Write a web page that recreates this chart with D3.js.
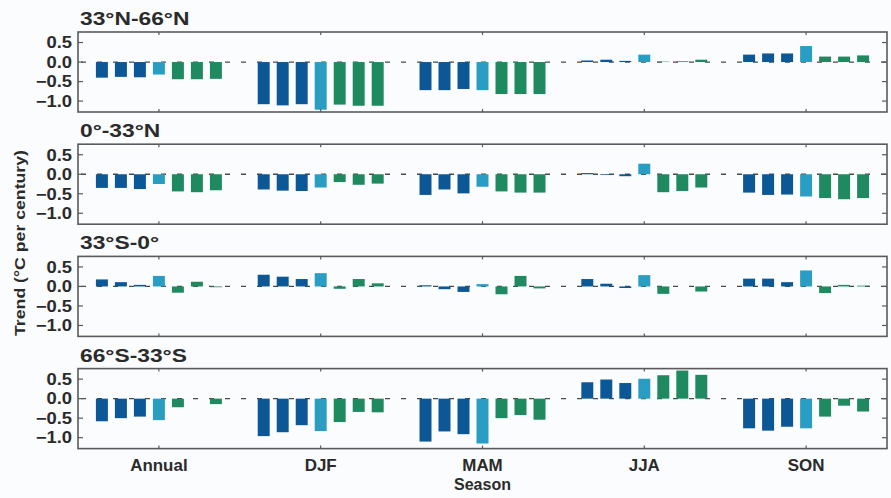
<!DOCTYPE html>
<html>
<head>
<meta charset="utf-8">
<script src="https://cdn.jsdelivr.net/npm/d3@7"></script>
<style>
  body { margin: 0; background: #fafcfd; }
  text { font-family: "Liberation Sans", Arial, sans-serif; font-weight: bold; fill: #2b2b2b; }
</style>
</head>
<body>
<div id="body"></div>
<script>
// latitude bands (one panel each)
var regions = ["33°N-66°N", "0°-33°N", "33°S-0°", "66°S-33°S"];
var seasons = ["Annual", "DJF", "MAM", "JJA", "SON"];
var yTicks = [0.5, 0.0, -0.5, -1.0];
// 7 series per season: 3 dark blue, 1 light blue, 3 green
var seriesColors = ["#0c5795", "#0c5795", "#0c5795", "#2a9ec2", "#1f8960", "#1f8960", "#1f8960"];

// trends (°C per century), [season][series]
var north66 = [
  [-0.40, -0.38, -0.39, -0.32, -0.44, -0.44, -0.43],
  [-1.08, -1.11, -1.08, -1.22, -1.09, -1.12, -1.12],
  [-0.72, -0.72, -0.69, -0.72, -0.82, -0.82, -0.82],
  [0.04, 0.06, 0.03, 0.19, 0.01, 0.02, 0.06],
  [0.19, 0.22, 0.22, 0.41, 0.14, 0.14, 0.17]
];
var north33 = [
  [-0.35, -0.35, -0.38, -0.25, -0.44, -0.46, -0.41],
  [-0.39, -0.42, -0.43, -0.34, -0.20, -0.27, -0.24],
  [-0.53, -0.39, -0.49, -0.32, -0.44, -0.47, -0.47],
  [0.03, -0.02, -0.05, 0.27, -0.46, -0.43, -0.34],
  [-0.47, -0.53, -0.52, -0.57, -0.61, -0.64, -0.61]
];
var south0 = [
  [0.18, 0.11, 0.04, 0.27, -0.16, 0.12, -0.02],
  [0.30, 0.25, 0.19, 0.34, -0.06, 0.19, 0.08],
  [0.03, -0.07, -0.14, 0.06, -0.20, 0.27, -0.05],
  [0.19, 0.07, -0.04, 0.29, -0.19, 0.00, -0.13],
  [0.20, 0.20, 0.11, 0.41, -0.17, 0.04, 0.02]
];
var south33 = [
  [-0.58, -0.50, -0.46, -0.55, -0.22, 0.00, -0.14],
  [-0.96, -0.86, -0.68, -0.83, -0.60, -0.34, -0.35],
  [-1.10, -0.84, -0.91, -1.15, -0.50, -0.42, -0.54],
  [0.42, 0.49, 0.40, 0.51, 0.60, 0.72, 0.61],
  [-0.76, -0.82, -0.72, -0.76, -0.46, -0.18, -0.33]
];
var panelData = [north66, north33, south0, south33];

var width = 891;
var height = 498;
var left = 78;
var right = 887;
var panelHeight = 80;
var panelStep = 112.2;
var firstTop = 32;
var frameColor = "#5a5a5a";

var svg = d3
  .select("#body")
  .append("svg")
  .attr("width", width)
  .attr("height", height);

var xScale = d3.scaleBand().domain(seasons).range([left, right]);

// bars inside one season, relative to the season centre
var barScale = d3
  .scaleBand()
  .domain(d3.range(7))
  .range([-66.5, 66.5])
  .paddingInner(0.37)
  .paddingOuter(0.185);

// the original lettering is a bit wider than Liberation Sans
function place(x, y, sx) {
  return "translate(" + x + "," + y + ") scale(" + sx + ",1)";
}

regions.forEach(function (region, i) {
  var top = firstTop + i * panelStep;
  var yScale = d3
    .scaleLinear()
    .domain([-1.28, 0.77])
    .range([top + panelHeight, top]);

  var group = svg.append("g");

  // region title
  group
    .append("text")
    .attr("transform", place(left + 2, top - 7, 1.2))
    .attr("font-size", 19)
    .text(region);

  // zero line
  group
    .append("line")
    .attr("x1", left)
    .attr("x2", right)
    .attr("y1", yScale(0))
    .attr("y2", yScale(0))
    .attr("stroke", "#4a4a4a")
    .attr("stroke-width", 1.3)
    .attr("stroke-dasharray", "5,11")
    .attr("stroke-dashoffset", -3);

  // bars
  var rows = [];
  panelData[i].forEach(function (vals, s) {
    vals.forEach(function (v, k) {
      rows.push({ season: seasons[s], series: k, value: v });
    });
  });

  group
    .selectAll("rect.bar")
    .data(rows)
    .enter()
    .append("rect")
    .attr("class", "bar")
    .attr("x", function (d) {
      return xScale(d.season) + xScale.bandwidth() / 2 + barScale(d.series);
    })
    .attr("width", barScale.bandwidth())
    .attr("y", function (d) {
      return yScale(Math.max(0, d.value));
    })
    .attr("height", function (d) {
      return Math.abs(yScale(d.value) - yScale(0));
    })
    .attr("fill", function (d) {
      return seriesColors[d.series];
    });

  // frame
  group
    .append("rect")
    .attr("x", left)
    .attr("y", top)
    .attr("width", right - left)
    .attr("height", panelHeight)
    .attr("fill", "none")
    .attr("stroke", frameColor)
    .attr("stroke-width", 1.6);

  // y ticks on both sides, pointing inward
  group
    .selectAll("line.ytick")
    .data(yTicks)
    .enter()
    .append("line")
    .attr("class", "ytick")
    .attr("x1", left)
    .attr("x2", left + 5)
    .attr("y1", function (d) { return yScale(d); })
    .attr("y2", function (d) { return yScale(d); })
    .attr("stroke", frameColor)
    .attr("stroke-width", 1.2);

  group
    .selectAll("line.ytickr")
    .data(yTicks)
    .enter()
    .append("line")
    .attr("class", "ytickr")
    .attr("x1", right - 5)
    .attr("x2", right)
    .attr("y1", function (d) { return yScale(d); })
    .attr("y2", function (d) { return yScale(d); })
    .attr("stroke", frameColor)
    .attr("stroke-width", 1.2);

  group
    .selectAll("text.ylab")
    .data(yTicks)
    .enter()
    .append("text")
    .attr("class", "ylab")
    .attr("transform", function (d) { return place(left - 6, yScale(d), 1.15); })
    .attr("dy", "0.36em")
    .attr("text-anchor", "end")
    .attr("font-size", 16)
    .text(function (d) { return d3.format(".1f")(d); });

  // x ticks top and bottom at season centres
  [top, top + panelHeight].forEach(function (yy, j) {
    group
      .selectAll("line.xtick" + j)
      .data(seasons)
      .enter()
      .append("line")
      .attr("class", "xtick" + j)
      .attr("x1", function (d) { return xScale(d) + xScale.bandwidth() / 2; })
      .attr("x2", function (d) { return xScale(d) + xScale.bandwidth() / 2; })
      .attr("y1", yy)
      .attr("y2", j === 0 ? yy + 3 : yy - 3)
      .attr("stroke", frameColor)
      .attr("stroke-width", 1.2);
  });
});

// season labels under the last panel
var lastBottom = firstTop + 3 * panelStep + panelHeight;

svg
  .selectAll("text.season")
  .data(seasons)
  .enter()
  .append("text")
  .attr("class", "season")
  .attr("transform", function (d) {
    return place(xScale(d) + xScale.bandwidth() / 2, lastBottom + 22, 1.06);
  })
  .attr("text-anchor", "middle")
  .attr("font-size", 16)
  .text(function (d) { return d; });

svg
  .append("text")
  .attr("x", (left + right) / 2)
  .attr("y", lastBottom + 41)
  .attr("text-anchor", "middle")
  .attr("font-size", 16)
  .text("Season");

svg
  .append("text")
  .attr("transform", "translate(25, 243) rotate(-90) scale(1.18,1)")
  .attr("text-anchor", "middle")
  .attr("font-size", 15)
  .text("Trend (°C per century)");
</script>
</body>
</html>
